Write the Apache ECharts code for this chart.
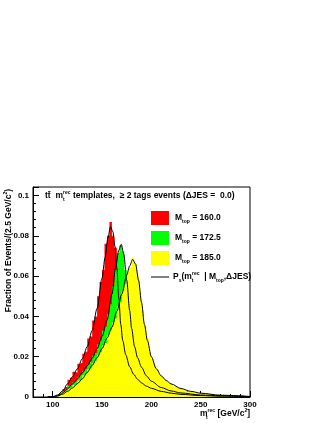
<!DOCTYPE html>
<html>
<head>
<meta charset="utf-8">
<script src="https://cdn.jsdelivr.net/npm/echarts@6/dist/echarts.min.js"></script>
<style>
html, body { margin: 0; padding: 0; background: #fff; }
#main { width: 327px; height: 423px; }
</style>
</head>
<body>
<div id="main"></div>
<script>
// histogram binning: 88 bins of 2.5 GeV from 80 to 300
var binLow = 80, binWidth = 2.5, binHigh = 300;

// Mtop = 160.0 template
var redHist = [
    0, 0, 0, 0, 0, 0, 0, 0,
    0.0004, 0.0006, 0.0012, 0.002, 0.004, 0.005, 0.0085, 0.0095,
    0.0125, 0.012, 0.0165, 0.017, 0.0215, 0.0225, 0.029, 0.030,
    0.038, 0.040, 0.050, 0.057, 0.063, 0.076, 0.080, 0.0868,
    0.080, 0.074, 0.058, 0.040, 0.030, 0.024, 0.019, 0.0155,
    0.0125, 0.0098, 0.0090, 0.0073, 0.0066, 0.0058, 0.0051, 0.0045,
    0.0040, 0.0036, 0.0032, 0.0029, 0.0026, 0.0024, 0.0021, 0.0020,
    0.0018, 0.0016, 0.0015, 0.0013, 0.0013, 0.0011, 0.0030, 0.0009,
    0.0010, 0.0008, 0.0008, 0.0007, 0.0007, 0.0006, 0.0006, 0.0005,
    0.0005, 0.0005, 0.0004, 0.0004, 0.0004, 0.0003, 0.0003, 0.0003,
    0.0003, 0.0003, 0.0002, 0.0002, 0.0002, 0.0002, 0.0002, 0.0002
];
// Mtop = 172.5 template
var greenHist = [
    0, 0, 0, 0, 0, 0, 0, 0,
    0.0003, 0.0006, 0.0012, 0.0018, 0.0030, 0.0040, 0.0056, 0.0062,
    0.0075, 0.0080, 0.0100, 0.0110, 0.0130, 0.0140, 0.0160, 0.0175,
    0.0205, 0.0220, 0.0262, 0.0280, 0.0330, 0.0350, 0.0410, 0.0460,
    0.0550, 0.0630, 0.0715, 0.0752, 0.0722, 0.0630, 0.0520, 0.0400,
    0.0320, 0.0260, 0.0205, 0.0170, 0.0145, 0.0120, 0.0100, 0.0088,
    0.0076, 0.0066, 0.0058, 0.0052, 0.0046, 0.0042, 0.0037, 0.0034,
    0.0030, 0.0028, 0.0025, 0.0023, 0.0021, 0.0019, 0.0018, 0.0016,
    0.0016, 0.0015, 0.0013, 0.0012, 0.0011, 0.0010, 0.0009, 0.0009,
    0.0008, 0.0007, 0.0007, 0.0006, 0.0006, 0.0005, 0.0005, 0.0004,
    0.0004, 0.0004, 0.0003, 0.0003, 0.0003, 0.0003, 0.0002, 0.0002
];
// Mtop = 185.0 template
var yellowHist = [
    0, 0, 0, 0, 0, 0, 0, 0,
    0.0002, 0.0004, 0.0009, 0.0012, 0.0024, 0.0030, 0.0042, 0.0048,
    0.0060, 0.0066, 0.0082, 0.0090, 0.0108, 0.0115, 0.0138, 0.0145,
    0.0170, 0.0180, 0.0210, 0.0222, 0.0258, 0.0268, 0.0310, 0.0330,
    0.0370, 0.0390, 0.0450, 0.0470, 0.0530, 0.0560, 0.0620, 0.0645,
    0.0690, 0.0665, 0.0600, 0.0520, 0.0430, 0.0350, 0.0290, 0.0220,
    0.0190, 0.0155, 0.0135, 0.0110, 0.0100, 0.0082, 0.0077, 0.0064,
    0.0060, 0.0050, 0.0048, 0.0040, 0.0038, 0.0033, 0.0024, 0.0027,
    0.0027, 0.0023, 0.0022, 0.0019, 0.0018, 0.0016, 0.0015, 0.0013,
    0.0012, 0.0011, 0.0010, 0.0009, 0.0009, 0.0008, 0.0007, 0.0007,
    0.0006, 0.0006, 0.0005, 0.0005, 0.0005, 0.0004, 0.0004, 0.0004
];

// fitted signal shapes P_s
var fitRedX = [95, 100, 105, 110, 115, 120, 125, 130, 135, 140, 145, 150, 153, 156, 158.5, 161, 163, 165, 167, 169, 171, 174, 178, 182, 186, 190, 195, 200, 210, 220, 230, 250, 270, 300];
var fitRedY = [0, 0.0001, 0.001, 0.003, 0.0065, 0.010, 0.014, 0.019, 0.025, 0.033, 0.044, 0.059, 0.069, 0.079, 0.0845, 0.082, 0.075, 0.064, 0.049, 0.036, 0.028, 0.021, 0.015, 0.0113, 0.0088, 0.007, 0.0054, 0.0043, 0.0028, 0.0019, 0.0013, 0.0007, 0.0004, 0.0002];

var fitGreenX = [95, 100, 105, 110, 115, 120, 125, 130, 135, 140, 145, 150, 155, 160, 164, 167, 169.5, 172, 175, 178, 180, 183, 186, 190, 195, 200, 210, 220, 230, 250, 270, 300];
var fitGreenY = [0, 0.0001, 0.0007, 0.0021, 0.004, 0.0065, 0.009, 0.012, 0.0155, 0.0193, 0.024, 0.030, 0.038, 0.051, 0.065, 0.0728, 0.0758, 0.071, 0.058, 0.043, 0.034, 0.025, 0.0195, 0.0148, 0.0105, 0.0078, 0.0047, 0.003, 0.002, 0.001, 0.0006, 0.0002];

var fitYellowX = [95, 100, 105, 110, 115, 120, 125, 130, 135, 140, 145, 150, 155, 160, 165, 170, 175, 178, 181, 184, 187, 190, 193, 196, 200, 205, 210, 215, 220, 230, 240, 250, 270, 300];
var fitYellowY = [0, 0.0001, 0.0005, 0.0014, 0.0028, 0.0045, 0.0066, 0.009, 0.0122, 0.0157, 0.0195, 0.024, 0.0292, 0.0345, 0.0425, 0.051, 0.0605, 0.065, 0.0683, 0.066, 0.058, 0.047, 0.036, 0.028, 0.020, 0.014, 0.0105, 0.0082, 0.0065, 0.0042, 0.0028, 0.0019, 0.0009, 0.0003];

var xMajorTicks = [100, 150, 200, 250, 300];
var xMinorTicks = [80, 90, 110, 120, 130, 140, 160, 170, 180, 190, 210, 220, 230, 240, 260, 270, 280, 290];
var legendMasses = ['160.0', '172.5', '185.0'];
var histColors = ['#ff0000', '#00ff00', '#ffff00'];

var FONT = 'Liberation Sans, Arial, Helvetica, sans-serif';

//turn bin contents into step points (left edges + closing edge)
function toSteps(vals) {
    var pts = [];
    for (var i = 0; i < vals.length; i++) {
        pts.push([binLow + i * binWidth, vals[i]]);
    }
    pts.push([binHigh, vals[vals.length - 1]]);
    return pts;
}

function zipXY(xs, ys) {
    var pts = [];
    for (var i = 0; i < xs.length; i++) pts.push([xs[i], ys[i]]);
    return pts;
}

function histSeries(vals, color) {
    return {
        type: 'line',
        step: 'end',
        symbol: 'none',
        silent: true,
        data: toSteps(vals),
        lineStyle: { width: 0, color: color },
        areaStyle: { color: color, opacity: 1 }
    };
}

function fitSeries(xs, ys) {
    return {
        type: 'line',
        smooth: 0.3,
        smoothMonotone: 'x',
        symbol: 'none',
        silent: true,
        data: zipXY(xs, ys),
        lineStyle: { color: '#000', width: 1 }
    };
}

function makeRich(size) {
    var small = Math.round(size * 0.62);
    return {
        b: { fontFamily: FONT, fontWeight: 'bold', fontSize: size, color: '#000', lineHeight: 12, verticalAlign: 'middle' },
        sub: { fontFamily: FONT, fontWeight: 'bold', fontSize: small, color: '#000', lineHeight: 12, verticalAlign: 'bottom' },
        subz: { fontFamily: FONT, fontWeight: 'bold', fontSize: small, color: '#000', lineHeight: 12, verticalAlign: 'bottom', width: 0.1 },
        sup: { fontFamily: FONT, fontWeight: 'bold', fontSize: small, color: '#000', lineHeight: 12, verticalAlign: 'top' }
    };
}

function richText(x, y, text, size, align, rotation) {
    var el = {
        type: 'text',
        x: x,
        y: y,
        silent: true,
        style: {
            text: text,
            rich: makeRich(size),
            verticalAlign: 'middle',
            align: align || 'left'
        }
    };
    if (rotation) el.rotation = rotation;
    return el;
}

var graphics = [];
// title
graphics.push(richText(45, 196, '{b|tt\u0304  m}{subz|t}{sup|rec}{b| templates,  \u2265 2 tags events (\u0394JES =  0.0)}', 8.5));
// y title
graphics.push(richText(9, 189, '{b|Fraction of Events/(2.5 GeV/c}{sup|2}{b|)}', 8.5, 'right', Math.PI / 2));
// x title
graphics.push(richText(250, 414, '{b|m}{subz|t}{sup|rec}{b| [GeV/c}{sup|2}{b|]}', 8.5, 'right'));
// legend boxes
for (var i = 0; i < legendMasses.length; i++) {
    graphics.push({
        type: 'rect',
        silent: true,
        shape: { x: 151, y: 211 + i * 20, width: 18, height: 14 },
        style: { fill: histColors[i] }
    });
    graphics.push(richText(175, 218 + i * 20, '{b|M}{sub|top}{b| = ' + legendMasses[i] + '}', 8.5));
}
graphics.push({
    type: 'line',
    silent: true,
    shape: { x1: 151, y1: 277, x2: 169, y2: 277 },
    style: { stroke: '#000', lineWidth: 1 }
});
graphics.push(richText(173, 277, '{b|P}{sub|s}{b|(m}{subz|t}{sup|rec}{b|  | M}{sub|top}{b|,\u0394JES)}', 8.5));

var chart = echarts.init(document.getElementById('main'), null, { renderer: 'canvas' });

var option = {
    animation: false,
    backgroundColor: '#fff',
    grid: {
        left: 33, right: 77, top: 187, bottom: 26,
        show: true, borderColor: '#000', borderWidth: 1, backgroundColor: 'transparent'
    },
    xAxis: [{
        type: 'value',
        min: binLow,
        max: binHigh,
        position: 'bottom',
        axisLine: { show: true, lineStyle: { color: '#000', width: 1 } },
        axisTick: { show: true, inside: true, length: 6, customValues: xMajorTicks, lineStyle: { color: '#000' } },
        axisLabel: {
            show: true, customValues: xMajorTicks, margin: 4,
            color: '#000', fontFamily: FONT, fontWeight: 'bold', fontSize: 8
        },
        splitLine: { show: false }
    }, {
        type: 'value',
        min: binLow,
        max: binHigh,
        position: 'bottom',
        axisLine: { show: false },
        axisTick: { show: true, inside: true, length: 3, customValues: xMinorTicks, lineStyle: { color: '#000' } },
        axisLabel: { show: false },
        splitLine: { show: false }
    }],
    yAxis: {
        type: 'value',
        min: 0,
        max: 0.1042,
        interval: 0.02,
        axisLine: { show: true, lineStyle: { color: '#000', width: 1 } },
        axisTick: { show: true, inside: true, length: 6, lineStyle: { color: '#000' } },
        minorTick: { show: true, splitNumber: 5, length: 3, lineStyle: { color: '#000' } },
        axisLabel: {
            show: true, margin: 4, showMaxLabel: false,
            color: '#000', fontFamily: FONT, fontWeight: 'bold', fontSize: 8
        },
        splitLine: { show: false }
    },
    series: [
        histSeries(redHist, histColors[0]),
        histSeries(greenHist, histColors[1]),
        histSeries(yellowHist, histColors[2]),
        fitSeries(fitRedX, fitRedY),
        fitSeries(fitGreenX, fitGreenY),
        fitSeries(fitYellowX, fitYellowY)
    ],
    graphic: graphics
};

chart.setOption(option);
</script>
</body>
</html>
